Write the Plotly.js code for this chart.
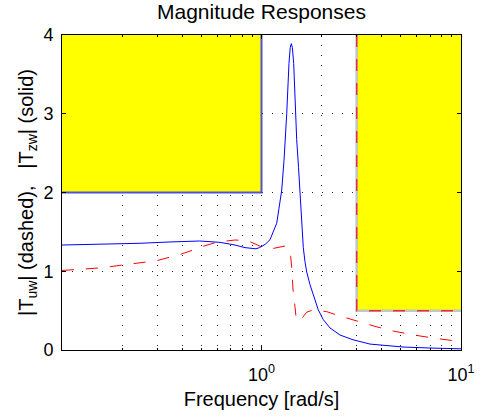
<!DOCTYPE html>
<html>
<head>
<meta charset="utf-8">
<script src="https://cdn.plot.ly/plotly-3.0.1.min.js"></script>
<style>html,body{margin:0;padding:0;background:#fff;}#plot{width:486px;height:417px;}</style>
</head>
<body>
<div id="plot"></div>
<script>
// Frequencies [rad/s] and magnitudes
const freqZW = [0.1, 0.161, 0.246, 0.348, 0.49, 0.619, 0.736, 0.827, 0.896, 0.938, 0.977, 1.041, 1.103, 1.192, 1.224, 1.263, 1.297, 1.31, 1.338, 1.373, 1.393, 1.411, 1.428, 1.45, 1.477, 1.501, 1.533, 1.56, 1.587, 1.62, 1.652, 1.685, 1.75, 1.854, 1.926, 2.041, 2.205, 2.475, 2.874, 3.499, 5.12, 6.99, 10];
const magZW  = [1.333, 1.342, 1.355, 1.372, 1.384, 1.367, 1.333, 1.30, 1.285, 1.285, 1.30, 1.34, 1.40, 1.61, 1.80, 2.03, 2.41, 2.67, 3.0, 3.64, 3.84, 3.89, 3.84, 3.64, 3.0, 2.67, 2.32, 1.98, 1.64, 1.30, 1.12, 0.99, 0.83, 0.635, 0.51, 0.385, 0.28, 0.19, 0.13, 0.075, 0.038, 0.025, 0.015];

const freqUW = [0.1, 0.161, 0.195, 0.298, 0.348, 0.398, 0.455, 0.521, 0.596, 0.736, 0.827, 0.876, 1.0, 1.146, 1.31, 1.345, 1.366, 1.401, 1.418, 1.433, 1.443, 1.472, 1.489, 1.515, 1.56, 1.591, 1.685, 1.818, 1.92, 2.122, 2.383, 2.777, 3.18, 3.707, 4.578, 5.344, 6.23, 7.13, 8.31, 10];
const magUW  = [1.01, 1.045, 1.075, 1.134, 1.18, 1.22, 1.27, 1.325, 1.368, 1.397, 1.39, 1.375, 1.31, 1.29, 1.32, 1.31, 1.28, 1.185, 1.04, 0.87, 0.72, 0.55, 0.42, 0.37, 0.375, 0.40, 0.48, 0.51, 0.505, 0.487, 0.444, 0.395, 0.345, 0.30, 0.24, 0.205, 0.178, 0.155, 0.13, 0.105];

// Forbidden regions (yellow) and their bounds
const zwRegionX = [0.1, 1, 1, 0.1, 0.1];
const zwRegionY = [2, 2, 4, 4, 2];
const zwBoundX = [0.1, 1, 1];
const zwBoundY = [2, 2, 4];

const uwRegionX = [3, 10, 10, 3, 3];
const uwRegionY = [0.5, 0.5, 4, 4, 0.5];
const uwBoundX = [3, 3, 10];
const uwBoundY = [4, 0.5, 0.5];

const xMajorTicks = [0.1, 1, 10];
const xMajorLabels = ['', '10<sup>0</sup>', '10<sup>1</sup>'];
const xMinorTicks = [0.2, 0.3, 0.4, 0.5, 0.6, 0.7, 0.8, 0.9, 2, 3, 4, 5, 6, 7, 8, 9];
const yTicks = [0, 1, 2, 3, 4];

const dashPat = '12px,12px';
const dotPat = '1px,9px';

const traces = [
  {x: zwRegionX, y: zwRegionY, mode: 'lines', fill: 'toself', fillcolor: '#ffff00', line: {width: 0}, hoverinfo: 'skip'},
  {x: uwRegionX, y: uwRegionY, mode: 'lines', fill: 'toself', fillcolor: '#ffff00', line: {width: 0}, hoverinfo: 'skip'},
  {x: zwBoundX, y: zwBoundY, mode: 'lines', line: {color: '#5050d8', width: 2}},
  {x: uwBoundX, y: uwBoundY, mode: 'lines', line: {color: '#c4c4c4', width: 2.5}},
  {x: uwBoundX, y: uwBoundY, mode: 'lines', line: {color: '#e83030', width: 1.5, dash: dashPat}},
  {x: freqUW, y: magUW, mode: 'lines', line: {color: '#ff0000', width: 1, dash: dashPat}},
  {x: freqZW, y: magZW, mode: 'lines', line: {color: '#0000ff', width: 1}}
];

const font = 'Liberation Sans, Arial, Helvetica, sans-serif';

const layout = {
  width: 486, height: 417,
  margin: {l: 62, r: 25, t: 35, b: 67},
  paper_bgcolor: '#fff', plot_bgcolor: '#fff',
  showlegend: false,
  font: {family: font, size: 18, color: '#000'},
  title: {text: 'Magnitude Responses', font: {family: font, size: 21, color: '#000'}, x: 0.538, xanchor: 'center', y: 0.972, yanchor: 'middle', yref: 'container'},
  xaxis: {
    type: 'log', range: [-1, 1],
    tickmode: 'array', tickvals: xMajorTicks, ticktext: xMajorLabels,
    ticks: 'inside', ticklen: 4, tickcolor: '#000',
    showline: true, linecolor: '#000', linewidth: 1, mirror: 'allticks',
    showgrid: true, gridcolor: '#222', griddash: dotPat, gridwidth: 1,
    zeroline: false,
    tickfont: {size: 18},
    ticklabelstandoff: 8,
    minor: {tickmode: 'array', tickvals: xMinorTicks, ticks: 'inside', ticklen: 2, tickcolor: '#000', showgrid: true, gridcolor: '#222', griddash: dotPat, gridwidth: 1},
    title: {text: 'Frequency [rad/s]', font: {size: 20}, standoff: 8}
  },
  yaxis: {
    range: [0, 4],
    tickmode: 'array', tickvals: yTicks,
    ticks: 'inside', ticklen: 4, tickcolor: '#000',
    showline: true, linecolor: '#000', linewidth: 1, mirror: 'allticks',
    showgrid: true, gridcolor: '#222', griddash: dotPat, gridwidth: 1,
    zeroline: false,
    tickfont: {size: 18},
    ticklabelstandoff: 4,
    title: {text: '|T<sub>uw</sub>| (dashed),&nbsp;&nbsp; |T<sub>zw</sub>| (solid)', font: {size: 20}, standoff: 4}
  }
};

Plotly.newPlot('plot', traces, layout, {staticPlot: true, displayModeBar: false});
</script>
</body>
</html>
